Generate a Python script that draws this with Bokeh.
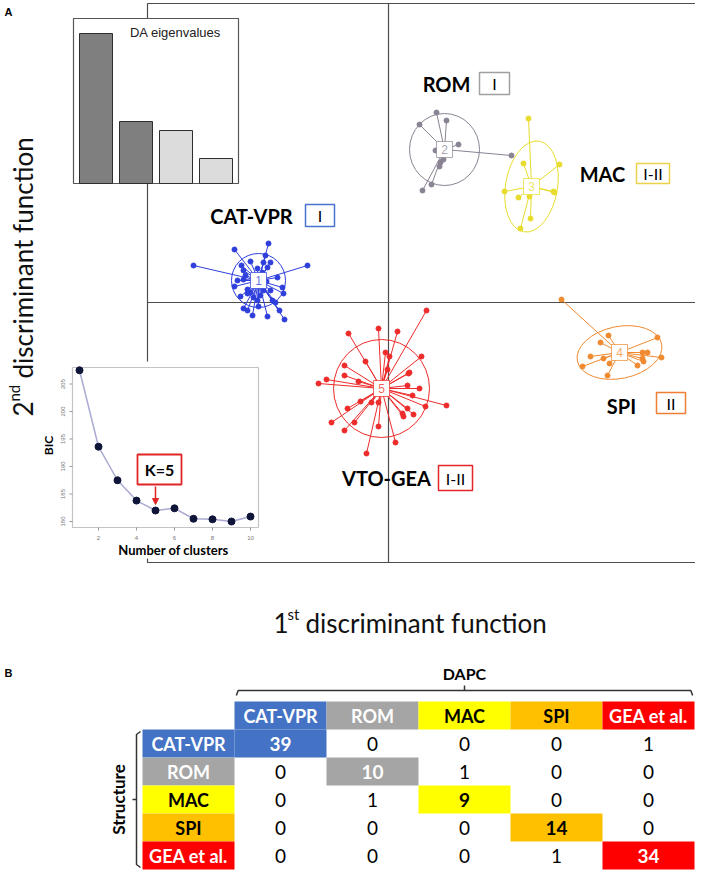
import numpy as np
from bokeh.plotting import figure
from bokeh.layouts import column
from bokeh.models import Range1d, Arrow, NormalHead
from bokeh.core.properties import value
from bokeh.embed import file_html
from bokeh.resources import INLINE

# ---------------- DATA ----------------
# Panel A : DAPC scores on the 1st / 2nd discriminant functions
groups = ["CAT-VPR", "ROM", "MAC", "SPI", "VTO-GEA"]
group_ids = ["1", "2", "3", "4", "5"]
structure_cluster = ["I", "I", "I-II", "II", "I-II"]

centroid_ld1 = [-13.0, 5.6, 14.3, 23.1, -0.7]
centroid_ld2 = [2.2, 15.3, 11.6, -5.0, -8.6]
ellipse_w = [5.4, 7.0, 5.2, 8.6, 9.6]
ellipse_h = [5.4, 7.2, 9.2, 5.2, 9.8]
ellipse_angle = [0.0, 0.0, -0.17, 0.2, 0.0]

cat_ld1 = [-19.5, -8.1, -15.4, -12.0, -12.3, -12.5, -13.8, -14.7, -14.5, -13.1, -12.1, -15.1, -15.4, -14.5,
           -11.1, -10.6, -13.8, -14.1, -12.5, -12.8, -13.1, -13.5, -11.8, -11.3, -10.9, -10.4, -12.1, -14.1,
           -14.5, -14.8, -12.2, -14.1, -13.0, -10.5, -13.3, -12.6, -11.6, -14.3, -11.8, -13.6]
cat_ld2 = [3.7, 3.7, 5.3, 5.9, 4.7, 4.0, 4.1, 3.7, 3.2, 3.4, 3.5, 2.2, 1.6, 2.3, 2.5, 1.5, 1.0, 0.9, 1.2, 0.7,
           0.2, 0.5, 1.2, 0.0, -0.8, -1.7, -1.4, -0.8, -0.6, 0.6, 2.1, 1.3, -0.4, 0.9, 1.7, 3.0, 0.2, 2.7, 4.0, -1.3]
rom_ld1 = [4.8, 5.8, 3.1, 7.0, 4.7, 12.3, 5.5, 5.2, 5.1, 4.3, 3.4]
rom_ld2 = [19.0, 18.2, 17.8, 15.8, 15.2, 14.7, 14.3, 14.0, 13.6, 11.8, 11.2]
mac_ld1 = [14.0, 13.5, 17.1, 11.6, 16.5, 16.6, 13.0, 14.1, 14.2, 13.2]
mac_ld2 = [18.4, 13.9, 13.8, 11.1, 11.1, 11.0, 10.5, 10.6, 8.4, 7.4]
spi_ld1 = [17.3, 22.0, 26.9, 21.2, 25.4, 25.9, 20.2, 21.5, 27.3, 25.4, 25.5, 22.1, 24.9, 19.4, 21.9]
spi_ld2 = [0.3, -3.3, -3.5, -4.0, -5.0, -5.0, -5.4, -5.6, -5.5, -5.6, -5.9, -6.1, -6.3, -6.4, -7.3]
gea_ld1 = [3.8, -4.0, -1.0, 0.9, -2.3, 0.1, 3.3, -4.4, -0.1, 2.1, 2.0, -4.4, -3.0, -6.2, -7.0, 1.9, 3.1, 5.8,
           3.7, -2.8, -1.7, -1.0, -4.1, 1.9, 1.4, 2.5, 1.5, -3.4, -5.7, -4.4, -1.0, 0.7, -2.2, -0.3, 2.4]
gea_ld2 = [-0.8, -3.1, -2.6, -2.9, -5.9, -5.4, -5.4, -6.3, -6.7, -7.0, -7.1, -7.3, -7.9, -7.7, -8.1, -8.3, -8.6,
           -10.3, -10.4, -9.9, -10.0, -10.0, -10.6, -10.6, -11.1, -11.2, -11.4, -12.0, -12.0, -12.8, -12.4,
           -14.0, -15.1, -5.0, -9.3]

# DA eigenvalues inset
eigenvalues = [60.0, 24.8, 21.2, 10.0]
eigen_retained = [True, True, False, False]

# BIC inset
k_clusters = [1, 2, 3, 4, 5, 6, 7, 8, 9, 10]
bic_values = [207.5, 193.6, 187.5, 183.8, 182.0, 182.4, 180.5, 180.4, 180.0, 180.9]
bic_ticks = [180, 185, 190, 195, 200, 205]
k_ticks = [2, 4, 6, 8, 10]
k_chosen = 5

# Panel B : Structure vs DAPC assignment table
table_cats = ["CAT-VPR", "ROM", "MAC", "SPI", "GEA et al."]
counts = [[39, 0, 0, 0, 1],
          [0, 10, 1, 0, 0],
          [0, 1, 9, 0, 0],
          [0, 0, 0, 14, 0],
          [0, 0, 0, 1, 34]]

# ---------------- STYLE ----------------
FONT = "Lato"
RFONT = "Liberation Sans"
group_colors = ["#2f3fdc", "#8a8393", "#e8dc2c", "#f08a30", "#ee2b2b"]
box_colors = ["#4a72cf", "#a0a0a0", "#ecd24a", "#ee7d35", "#e3262b"]
table_colors = ["#4472C4", "#A5A5A5", "#FFFF00", "#FFC000", "#FF0000"]
table_text = ["white", "white", "black", "black", "white"]
FRAME = "#4d4d4d"

HA = 650  # height of panel A in px


def px(X):
    return (X - 388) / 10.0


def py(Y):
    return (302 - Y) / 10.0


# ---------------- PANEL A ----------------
# 10 px per LD unit; crosshair origin at picture pixel (388, 302)
pA = figure(width=695, height=HA, x_range=Range1d(px(0), px(695)), y_range=Range1d(py(HA), py(0)),
            output_backend="svg", toolbar_location=None, min_border=0)
pA.axis.visible = False
pA.grid.visible = False
pA.outline_line_color = None

# frame + crosshair
pA.line([px(696), px(147), px(147), px(696)], [py(3), py(3), py(562), py(562)], line_color=FRAME, line_width=1.2)
pA.line([0, 0], [py(3), py(562)], line_color=FRAME, line_width=1.2)
pA.line([px(147), px(696)], [0, 0], line_color=FRAME, line_width=1.2)

pts = [(cat_ld1, cat_ld2), (rom_ld1, rom_ld2), (mac_ld1, mac_ld2), (spi_ld1, spi_ld2), (gea_ld1, gea_ld2)]
for gi, (xs, ys) in enumerate(pts):
    col = group_colors[gi]
    cx, cy = centroid_ld1[gi], centroid_ld2[gi]
    pA.segment(x0=[cx] * len(xs), y0=[cy] * len(ys), x1=xs, y1=ys, line_color=col, line_width=1)
    pA.ellipse(x=[cx], y=[cy], width=[ellipse_w[gi]], height=[ellipse_h[gi]], angle=[ellipse_angle[gi]],
               fill_color=None, line_color=col, line_width=1)
    pA.scatter(xs, ys, size=5, fill_color=col, line_color=col)
    pA.rect(x=[cx], y=[cy], width=1.6, height=1.6, fill_color="white", line_color=col, line_alpha=0.7,
            line_width=1)
    pA.text(x=[cx], y=[cy], text=[group_ids[gi]], text_color=col, text_alpha=0.75, text_font=value(RFONT),
            text_font_size="12px", text_align="center", text_baseline="middle")

# group labels with STRUCTURE cluster boxes (picture pixel layout)
label_pos = [(251, 215), (446, 83), (602, 173), (621, 405), (386, 477)]
box_pos = [(305, 334, 204, 226), (479, 509, 72, 94), (636, 669, 163, 183), (656, 685, 392, 413),
           (438, 472, 465, 490)]
for gi in range(5):
    lx, ly = label_pos[gi]
    pA.text(x=[px(lx)], y=[py(ly)], text=[groups[gi]], text_font=value(FONT), text_font_style="bold",
            text_font_size="20px", text_color="black", text_align="center", text_baseline="middle")
    l, r, t, b = box_pos[gi]
    pA.quad(left=[px(l)], right=[px(r)], top=[py(t)], bottom=[py(b)], fill_color="white",
            line_color=box_colors[gi], line_width=1.5)
    pA.text(x=[px((l + r) / 2)], y=[py((t + b) / 2)], text=[structure_cluster[gi]], text_font=value(FONT),
            text_font_size="16px", text_color="black", text_align="center", text_baseline="middle")

pA.text(x=[px(4)], y=[py(11)], text=["A"], text_font=value(RFONT), text_font_style="bold",
        text_font_size="11px", text_align="left", text_baseline="middle")

# ---- DA eigenvalues inset ----
pA.quad(left=[px(73)], right=[px(238)], top=[py(18)], bottom=[py(183)], fill_color="white",
        line_color="#555555", line_width=1.2)
eig_left = [px(79 + 40 * i) for i in range(len(eigenvalues))]
eig_right = [px(79 + 40 * i + 33) for i in range(len(eigenvalues))]
eig_top = [py(183 - 2.5 * v) for v in eigenvalues]
eig_col = ["#7f7f7f" if keep else "#dcdcdc" for keep in eigen_retained]
pA.quad(left=eig_left, right=eig_right, top=eig_top, bottom=[py(183)] * len(eigenvalues),
        fill_color=eig_col, line_color="#2e2e2e", line_width=1)
pA.text(x=[px(175)], y=[py(32)], text=["DA eigenvalues"], text_font=value(RFONT), text_font_size="13px",
        text_color="#222222", text_align="center", text_baseline="middle")

# ---- BIC inset ----
pA.quad(left=[px(38)], right=[px(263)], top=[py(361)], bottom=[py(558)], fill_color="white", line_color=None)
pA.quad(left=[px(72)], right=[px(258)], top=[py(367)], bottom=[py(527)], fill_color="white",
        line_color="#c4c4c4", line_width=1.2)


def bx(k):
    return px(60 + 19 * k)


def by(b):
    return py(521 - (b - 180) * 5.5)


bxs = [bx(k) for k in k_clusters]
bys = [by(b) for b in bic_values]
pA.line(bxs, bys, line_color="#aaaad2", line_width=1.5)
pA.scatter(bxs, bys, size=7, fill_color="#0e1538", line_color="#0e1538")
pA.segment(x0=[px(72)] * len(bic_ticks), x1=[px(69)] * len(bic_ticks), y0=[by(t) for t in bic_ticks],
           y1=[by(t) for t in bic_ticks], line_color="#999999", line_width=1)
pA.text(x=[px(64)] * len(bic_ticks), y=[by(t) for t in bic_ticks], text=[str(t) for t in bic_ticks],
        angle=np.pi / 2, text_font=value(RFONT), text_font_size="6px", text_color="#777777",
        text_align="center", text_baseline="bottom")
pA.segment(x0=[bx(k) for k in k_ticks], x1=[bx(k) for k in k_ticks], y0=[py(527)] * len(k_ticks),
           y1=[py(530)] * len(k_ticks), line_color="#999999", line_width=1)
pA.text(x=[bx(k) for k in k_ticks], y=[py(537)] * len(k_ticks), text=[str(k) for k in k_ticks],
        text_font=value(RFONT), text_font_size="6px", text_color="#777777", text_align="center",
        text_baseline="middle")
pA.text(x=[px(48)], y=[py(445)], text=["BIC"], angle=np.pi / 2, text_font=value(FONT), text_font_style="bold",
        text_font_size="12px", text_align="center", text_baseline="middle")
pA.text(x=[px(173)], y=[py(549)], text=["Number of clusters"], text_font=value(FONT), text_font_style="bold",
        text_font_size="13px", text_align="center", text_baseline="middle")
pA.quad(left=[px(137)], right=[px(181)], top=[py(454)], bottom=[py(484)], fill_color="white",
        line_color="#e02525", line_width=1.8)
pA.text(x=[px(159)], y=[py(469)], text=["K=%d" % k_chosen], text_font=value(FONT), text_font_style="bold",
        text_font_size="16px", text_align="center", text_baseline="middle")
pA.add_layout(Arrow(end=NormalHead(size=6, fill_color="#e02525", line_color="#e02525"),
                    x_start=bx(k_chosen), y_start=py(486), x_end=bx(k_chosen), y_end=by(bic_values[4]) + 0.6,
                    line_color="#e02525", line_width=1.5))

# ---- axis titles (drawn last, on top) ----
pA.text(x=[px(273)], y=[py(622)], text=["1"], text_font=value(FONT), text_font_size="26px",
        text_align="left", text_baseline="middle", text_color="#111")
pA.text(x=[px(287)], y=[py(613)], text=["st"], text_font=value(FONT), text_font_size="15px",
        text_align="left", text_baseline="middle", text_color="#111")
pA.text(x=[px(305)], y=[py(622)], text=["discriminant function"], text_font=value(FONT), text_font_size="26px",
        text_align="left", text_baseline="middle", text_color="#111")

pA.text(x=[px(22)], y=[py(416)], text=["2"], angle=np.pi / 2, text_font=value(FONT), text_font_size="26px",
        text_align="left", text_baseline="middle", text_color="#111")
pA.text(x=[px(13)], y=[py(401)], text=["nd"], angle=np.pi / 2, text_font=value(FONT), text_font_size="15px",
        text_align="left", text_baseline="middle", text_color="#111")
pA.text(x=[px(22)], y=[py(378)], text=["discriminant function"], angle=np.pi / 2, text_font=value(FONT),
        text_font_size="26px", text_align="left", text_baseline="middle", text_color="#111")

# ---------------- PANEL B ----------------
CW = 92.0
RH = 28.0
X0 = 142.0
Y0 = 701.0


def cx_(X):
    return (X - X0) / CW


def ry_(Y):
    return (Y - Y0) / RH


pB = figure(width=695, height=870 - HA, x_range=Range1d(cx_(0), cx_(695)), y_range=Range1d(ry_(870), ry_(HA)),
            output_backend="svg", toolbar_location=None, min_border=0)
pB.axis.visible = False
pB.grid.visible = False
pB.outline_line_color = None

n = len(table_cats)
# header row, row labels, highlighted diagonal
pB.quad(left=[i + 1 for i in range(n)], right=[i + 2 for i in range(n)], top=[0] * n, bottom=[1] * n,
        fill_color=table_colors, line_color=None)
pB.quad(left=[0] * n, right=[1] * n, top=[i + 1 for i in range(n)], bottom=[i + 2 for i in range(n)],
        fill_color=table_colors, line_color=None)
pB.quad(left=[i + 1 for i in range(n)], right=[i + 2 for i in range(n)], top=[i + 1 for i in range(n)],
        bottom=[i + 2 for i in range(n)], fill_color=table_colors, line_color=None)

pB.text(x=[i + 1.5 for i in range(n)], y=[0.5] * n, text=table_cats, text_color=table_text,
        text_font=value(FONT), text_font_style="bold", text_font_size="18px", text_align="center",
        text_baseline="middle")
pB.text(x=[0.5] * n, y=[i + 1.5 for i in range(n)], text=table_cats, text_color=table_text,
        text_font=value(FONT), text_font_style="bold", text_font_size="18px", text_align="center",
        text_baseline="middle")

off_x, off_y, off_t = [], [], []
dia_x, dia_y, dia_t, dia_c = [], [], [], []
for r in range(n):
    for c in range(n):
        if r == c:
            dia_x.append(c + 1.5); dia_y.append(r + 1.5); dia_t.append(str(counts[r][c])); dia_c.append(table_text[r])
        else:
            off_x.append(c + 1.5); off_y.append(r + 1.5); off_t.append(str(counts[r][c]))
pB.text(x=off_x, y=off_y, text=off_t, text_color="black", text_font=value(FONT), text_font_size="19px",
        text_align="center", text_baseline="middle")
pB.text(x=dia_x, y=dia_y, text=dia_t, text_color=dia_c, text_font=value(FONT), text_font_style="bold",
        text_font_size="19px", text_align="center", text_baseline="middle")

# DAPC brace (top)
BR = "#333333"
mid = 1 + n / 2.0
pB.line([1.02, 1.04, n + 0.96, n + 0.98], [ry_(695), ry_(690), ry_(690), ry_(695)], line_color=BR,
        line_width=1.5)
pB.line([mid, mid], [ry_(690), ry_(685)], line_color=BR, line_width=1.5)
pB.text(x=[mid], y=[ry_(673)], text=["DAPC"], text_font=value(FONT), text_font_style="bold",
        text_font_size="16px", text_align="center", text_baseline="middle")
# Structure brace (left)
pB.line([cx_(140), cx_(136), cx_(136), cx_(140)], [ry_(731), ry_(734), ry_(864), ry_(867)], line_color=BR,
        line_width=1.5)
pB.line([cx_(136), cx_(132)], [3.5, 3.5], line_color=BR, line_width=1.5)
pB.text(x=[cx_(118)], y=[3.5], text=["Structure"], angle=np.pi / 2, text_font=value(FONT),
        text_font_style="bold", text_font_size="17px", text_align="center", text_baseline="middle")
pB.text(x=[cx_(4)], y=[ry_(672)], text=["B"], text_font=value(RFONT), text_font_style="bold",
        text_font_size="11px", text_align="left", text_baseline="middle")

layout = column(pA, pB, spacing=0)
open("out.html", "w").write(file_html(layout, INLINE))
